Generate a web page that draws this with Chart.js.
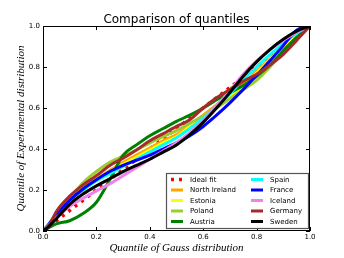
<!DOCTYPE html>
<html>
<head>
<meta charset="utf-8">
<script src="https://cdn.jsdelivr.net/npm/chart.js@4.4.1/dist/chart.umd.min.js"></script>
<style>
  html, body { margin: 0; padding: 0; background: #fff; }
  #wrap { width: 344px; height: 258px; }
</style>
</head>
<body>
<div id="wrap"><canvas id="myChart" width="344" height="258"></canvas></div>
<script>
// Quantile positions (Gauss) shared by the country curves
const quantX = [0, 0.02, 0.05, 0.1, 0.15, 0.2, 0.25, 0.3, 0.35, 0.4, 0.45, 0.5, 0.55, 0.6, 0.65, 0.7, 0.75, 0.8, 0.85, 0.9, 0.95, 1];

// Ideal fit line
const idealX = [0, 1];
const idealY = [0, 1];

// Experimental quantiles per country
const northIreland = [0, 0.03, 0.085, 0.155, 0.21, 0.255, 0.295, 0.335, 0.37, 0.405, 0.44, 0.47, 0.52, 0.565, 0.615, 0.665, 0.72, 0.78, 0.84, 0.9, 0.955, 1];
const estonia      = [0, 0.025, 0.075, 0.145, 0.2, 0.25, 0.29, 0.325, 0.36, 0.395, 0.43, 0.46, 0.51, 0.555, 0.605, 0.655, 0.71, 0.77, 0.835, 0.9, 0.955, 1];
const poland       = [0, 0.03, 0.085, 0.16, 0.235, 0.29, 0.335, 0.365, 0.395, 0.43, 0.46, 0.49, 0.525, 0.56, 0.6, 0.645, 0.69, 0.735, 0.8, 0.875, 0.945, 1];
const austria      = [0, 0.015, 0.035, 0.05, 0.085, 0.14, 0.25, 0.37, 0.42, 0.465, 0.5, 0.535, 0.565, 0.6, 0.64, 0.675, 0.71, 0.755, 0.81, 0.88, 0.945, 1];
const spain        = [0, 0.03, 0.08, 0.15, 0.2, 0.245, 0.28, 0.315, 0.35, 0.385, 0.42, 0.455, 0.5, 0.55, 0.61, 0.67, 0.74, 0.8, 0.86, 0.915, 0.965, 1];
const france       = [0, 0.03, 0.08, 0.15, 0.205, 0.25, 0.29, 0.32, 0.345, 0.37, 0.4, 0.43, 0.465, 0.51, 0.565, 0.625, 0.69, 0.76, 0.83, 0.905, 0.98, 1];
const iceland      = [0, 0.025, 0.065, 0.12, 0.16, 0.195, 0.23, 0.27, 0.31, 0.35, 0.39, 0.43, 0.48, 0.54, 0.61, 0.685, 0.765, 0.83, 0.885, 0.93, 0.97, 1];
const germany      = [0, 0.02, 0.095, 0.17, 0.225, 0.27, 0.32, 0.355, 0.395, 0.44, 0.475, 0.51, 0.543, 0.6, 0.65, 0.69, 0.73, 0.765, 0.81, 0.862, 0.93, 1];
const sweden       = [0, 0.02, 0.06, 0.13, 0.18, 0.22, 0.255, 0.29, 0.32, 0.35, 0.385, 0.42, 0.47, 0.53, 0.6, 0.675, 0.755, 0.825, 0.885, 0.935, 0.975, 1];

const axisTicks = [0, 0.2, 0.4, 0.6, 0.8, 1.0];
const chartTitle = 'Comparison of quantiles';

function toPoints(xs, ys) {
    return xs.map((x, i) => ({ x: x, y: ys[i] }));
}

function curve(label, ys, color, order) {
    return {
        label: label,
        data: toPoints(quantX, ys),
        borderColor: color,
        backgroundColor: color,
        borderWidth: 3,
        showLine: true,
        pointRadius: 0,
        cubicInterpolationMode: 'monotone',
        order: order
    };
}

// inward ticks on all four sides, frame, title and the 2-column legend
const decorations = {
    id: 'decorations',
    afterDatasetsDraw(chart) {
        const ctx = chart.ctx;
        const a = chart.chartArea;
        const xs = chart.scales.x, ys = chart.scales.y;
        ctx.save();
        ctx.strokeStyle = '#000';
        ctx.lineWidth = 1;
        ctx.beginPath();
        axisTicks.forEach(v => {
            const px = Math.round(xs.getPixelForValue(v)) + 0.5;
            ctx.moveTo(px, a.bottom); ctx.lineTo(px, a.bottom - 4);
            ctx.moveTo(px, a.top); ctx.lineTo(px, a.top + 4);
            const py = Math.round(ys.getPixelForValue(v)) + 0.5;
            ctx.moveTo(a.left, py); ctx.lineTo(a.left + 4, py);
            ctx.moveTo(a.right, py); ctx.lineTo(a.right - 4, py);
        });
        ctx.stroke();
        ctx.strokeRect(Math.round(a.left) + 0.5, Math.round(a.top) + 0.5,
                       Math.round(a.right - a.left) - 1, Math.round(a.bottom - a.top) - 1);

        // legend box
        const bw = 142, bh = 55;
        const bx = Math.round(a.right) - 2 - bw;
        const by = Math.round(a.bottom) - 3 - bh;
        ctx.fillStyle = '#fff';
        ctx.fillRect(bx, by, bw, bh);
        ctx.strokeStyle = '#555';
        ctx.lineWidth = 1.2;
        ctx.strokeRect(bx + 0.5, by + 0.5, bw, bh);
        ctx.font = '7px "DejaVu Sans"';
        ctx.textBaseline = 'middle';
        ctx.fillStyle = '#000';
        chart.data.datasets.forEach((ds, i) => {
            const col = Math.floor(i / 5), row = i % 5;
            const sx = bx + 5 + col * 80;
            const sy = by + 6.5 + row * 10.5;
            ctx.save();
            ctx.strokeStyle = ds.borderColor;
            ctx.lineWidth = ds.borderWidth;
            ctx.setLineDash(ds.borderDash || []);
            ctx.beginPath();
            ctx.moveTo(sx, sy); ctx.lineTo(sx + 12, sy);
            ctx.stroke();
            ctx.restore();
            ctx.fillText(ds.label, sx + 19, sy + 0.5);
        });

        // title centred over the plot
        ctx.font = '12px "DejaVu Sans"';
        ctx.textAlign = 'center';
        ctx.textBaseline = 'alphabetic';
        ctx.fillText(chartTitle, (a.left + a.right) / 2, 22.5);
        ctx.restore();
    }
};

Chart.defaults.font.family = '"DejaVu Sans"';
Chart.defaults.color = '#000';

function createChart() {
    var ctx = document.getElementById('myChart').getContext('2d');
    var myChart = new Chart(ctx, {
        type: 'scatter',
        data: {
            datasets: [
                {
                    label: 'Ideal fit',
                    data: toPoints(idealX, idealY),
                    borderColor: 'rgb(255, 0, 0)',
                    backgroundColor: 'rgb(255, 0, 0)',
                    borderWidth: 3.5,
                    borderDash: [3, 5],
                    borderCapStyle: 'butt',
                    showLine: true,
                    pointRadius: 0,
                    order: 10
                },
                curve('North Ireland', northIreland, 'rgb(255, 165, 0)', 9),
                curve('Estonia', estonia, 'rgb(255, 255, 0)', 8),
                curve('Poland', poland, 'rgb(154, 205, 50)', 7),
                curve('Austria', austria, 'rgb(0, 128, 0)', 6),
                curve('Spain', spain, 'rgb(0, 255, 255)', 5),
                curve('France', france, 'rgb(0, 0, 255)', 4),
                curve('Iceland', iceland, 'rgb(238, 130, 238)', 3),
                curve('Germany', germany, 'rgb(165, 42, 42)', 2),
                curve('Sweden', sweden, 'rgb(0, 0, 0)', 1)
            ]
        },
        options: {
            responsive: false,
            animation: false,
            events: [],
            layout: { padding: { top: 26, right: 34, left: 0, bottom: 0 } },
            plugins: {
                legend: { display: false },
                tooltip: { enabled: false },
                title: { display: false }
            },
            scales: {
                x: {
                    type: 'linear',
                    min: 0,
                    max: 1,
                    grid: { display: false, drawTicks: false },
                    border: { display: false },
                    afterBuildTicks: s => { s.ticks = axisTicks.map(v => ({ value: v })); },
                    ticks: {
                        font: { size: 7 },
                        padding: 2,
                        maxRotation: 0,
                        callback: v => v.toFixed(1)
                    },
                    title: {
                        display: true,
                        text: 'Quantile of Gauss distribution',
                        font: { family: '"Liberation Serif"', style: 'italic', size: 11 },
                        padding: { top: 0, bottom: 3 }
                    },
                    afterFit: s => { s.height = 27; }
                },
                y: {
                    type: 'linear',
                    min: 0,
                    max: 1,
                    grid: { display: false, drawTicks: false },
                    border: { display: false },
                    afterBuildTicks: s => { s.ticks = axisTicks.map(v => ({ value: v })); },
                    ticks: {
                        font: { size: 7 },
                        padding: 3,
                        callback: v => v.toFixed(1)
                    },
                    title: {
                        display: true,
                        text: 'Quantile of Experimental distribution',
                        font: { family: '"Liberation Serif"', style: 'italic', size: 11 },
                        padding: { top: 15, bottom: 0 }
                    },
                    afterFit: s => { s.width = 43; }
                }
            }
        },
        plugins: [decorations]
    });
}

createChart();
</script>
</body>
</html>
